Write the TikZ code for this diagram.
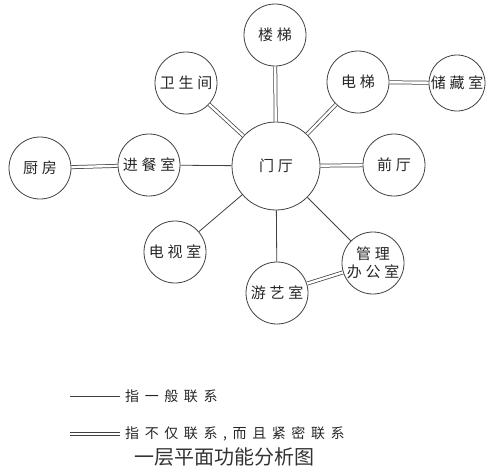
\documentclass[tikz,border=0pt]{standalone}
\usepackage{fontspec}
\newfontfamily\cjk[LetterSpace=25]{Noto Sans CJK SC}
\newfontfamily\cjkwide[LetterSpace=40]{Noto Sans CJK SC}
\newfontfamily\cjkplain{Noto Sans CJK SC}
\usetikzlibrary{positioning}
\newcommand{\rmtext}[1]{\makebox[0pt]{#1}}

\begin{document}
\begin{tikzpicture}[x=1pt,y=-1pt,
	room/.style={circle,draw=black!75,line width=0.8pt,minimum size=62pt,inner sep=0pt,
		font=\cjk\fontsize{15}{18}\selectfont,text=black!85},
	link/.style={draw=black!75,line width=0.8pt},
	tight/.style={draw=black!75,double,double distance=2.4pt,line width=0.75pt},
	legend/.style={font=\cjkwide\fontsize{14}{16}\selectfont,text=black!85,inner sep=0pt}]
	\useasboundingbox (0,0) rectangle (493,475);
	
	\node[room,minimum size=88pt] (menting) at (276,166) {\rmtext{门厅}};
	\node[room] (louti) at (275,35) {\rmtext{楼梯}};
	\node[room] (weisheng) at (186,83) {\rmtext{卫生间}};
	\node[room] (dianti) at (358,82) {\rmtext{电梯}};
	\node[room,minimum size=56pt] (chucang) at (457,83) {\rmtext{储藏室}};
	\node[room] (qianting) at (394,165) {\rmtext{前厅}};
	\node[room] (jincan) at (149,165) {\rmtext{进餐室}};
	\node[room] (chufang) at (40,168) {\rmtext{厨房}};
	\node[room] (dianshi) at (175,252) {\rmtext{电视室}};
	\node[room] (youyi) at (277,293) {\rmtext{游艺室}};
	\node[room,align=center] (guanli) at (373,263) {\rmtext{管理}\\\rmtext{办公室}};
	
	\foreach \r in {louti,weisheng,dianti,qianting} { \draw[tight] (menting) -- (\r); }
	\foreach \r in {jincan,dianshi,youyi,guanli} { \draw[link] (menting) -- (\r); }
	\draw[tight] (dianti) -- (chucang);
	\draw[tight] (jincan) -- (chufang);
	\draw[tight] (youyi) -- (guanli);
	
	\coordinate (onea) at (70,396);
	\coordinate (oneb) at (120,396);
	\coordinate (twoa) at (70,434);
	\coordinate (twob) at (120,434);
	\draw[link] (onea) -- (oneb);
	\draw[tight] (twoa) -- (twob);
	\node[legend,anchor=west,right=5pt of oneb] (onetext) {指一般联系};
	\node[legend,anchor=west,right=5pt of twob] (twotext) {指不仅联系,而且紧密联系};
	
	\node[font=\cjkplain\fontsize{20}{24}\selectfont,text=black!80] (caption) at (224,457) {一层平面功能分析图};
\end{tikzpicture}
\end{document}
